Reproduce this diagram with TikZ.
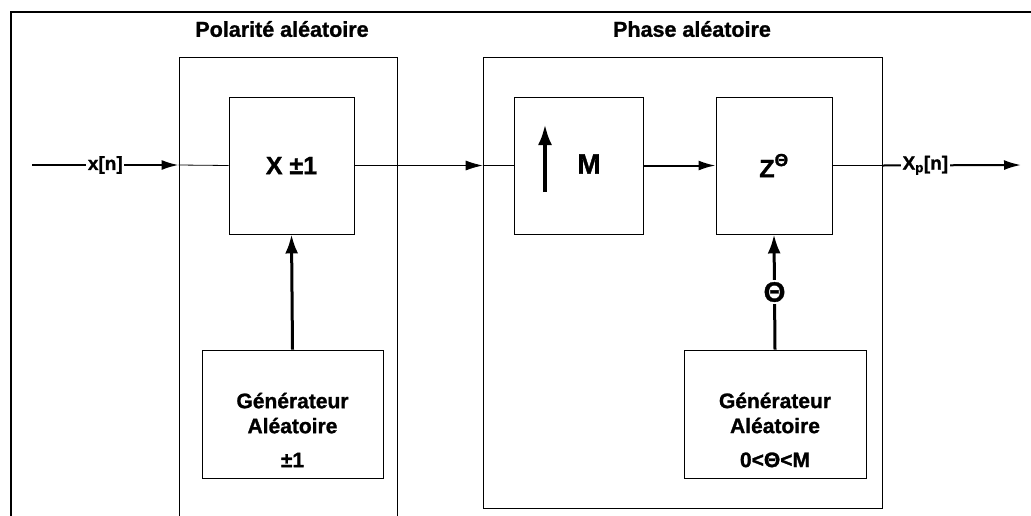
\documentclass[tikz,border=0pt]{standalone}
\usepackage{fontspec}
\setmainfont{Liberation Sans}[BoldFeatures={FakeBold=1.2}]
\usetikzlibrary{calc, arrows.meta}

\begin{document}
\begin{tikzpicture}[
    x=1pt, y=-1pt,
    grp/.style={draw=black, line width=0.8pt, inner sep=0pt},
    blockbox/.style={draw=black, line width=0.9pt, inner sep=0pt},
    wire/.style={line width=0.8pt},
    sig/.style={line width=2pt},
    feed/.style={line width=3pt, -{Latex[length=19pt, width=13pt]}},
    lbl/.style={fill=white, inner sep=1.5pt, font=\bfseries\fontsize{19}{22}\selectfont},
    ttl/.style={font=\bfseries\fontsize{21.5}{24}\selectfont},
    gentxt/.style={align=center, font=\bfseries\fontsize{21}{25}\selectfont},
    >={Latex[length=17pt, width=10pt]}
]

\useasboundingbox (0,0) rectangle (1031,515);
\clip (0,0) rectangle (1031,515);

% Outer frame
\draw[line width=1.8pt] (11,540) |- (1045,12);

% Groups
\node[grp, minimum width=218pt, minimum height=483pt] (grpPol) at (288,298.5) {};
\node[grp, minimum width=399pt, minimum height=451pt] (grpPha) at (682.5,282.5) {};
\node[ttl] (ttlPol) at (282,29) {Polarité aléatoire};
\node[ttl] (ttlPha) at (692,29) {Phase aléatoire};

% Blocks
\node[blockbox, minimum width=125pt, minimum height=137pt,
      font=\bfseries\fontsize{25}{28}\selectfont] (mulbox) at (291.5,165.5) {X ±1};
\node[blockbox, minimum width=181pt, minimum height=128pt] (gen1) at (292.5,414) {};
\node[gentxt] (gen1txt) at ($(gen1)+(0,16)$) {Générateur\\Aléatoire\\[9pt]±1};

\node[blockbox, minimum width=129pt, minimum height=137pt] (upbox) at (578.5,165.5) {};
\node[font=\bfseries\fontsize{28}{30}\selectfont] (uptxt) at (589,164) {M};
\draw[line width=4pt, -{Latex[length=21pt, width=14pt]}] (545,192) -- (545,124);

\node[blockbox, minimum width=116pt, minimum height=137pt,
      font=\bfseries\fontsize{25}{28}\selectfont] (zbox) at (774,165.5) {Z\textsuperscript{\raisebox{2pt}{Θ}}};
\node[blockbox, minimum width=182pt, minimum height=128pt] (gen2) at (775,414) {};
\node[gentxt] (gen2txt) at ($(gen2)+(0,16)$) {Générateur\\Aléatoire\\[9pt]0<Θ<M};

% Signal path
\coordinate (xin) at (32,165);
\coordinate (xout) at (1021,165);
\draw[sig, ->] (xin) -- node[lbl] {x[n]} (xin -| grpPol.west);
\draw[wire] (xin -| grpPol.west) -- (mulbox.west);
\draw[wire, ->] (mulbox.east) -- (mulbox.east -| grpPha.west);
\draw[wire] (mulbox.east -| grpPha.west) -- (upbox.west);
\draw[sig, ->] (upbox.east) -- (zbox.west);
\draw[wire] (zbox.east) -- (zbox.east -| grpPha.east);
\draw[sig, ->] (zbox.east -| grpPha.east) -- node[lbl, pos=0.31] {X\textsubscript{p}[n]} (xout);

% Control inputs
\draw[feed] (gen1.north) -- (mulbox.south);
\draw[feed] (gen2.north) -- node[fill=white, inner sep=2pt,
      font=\bfseries\fontsize{28}{30}\selectfont] (thlbl) {Θ} (zbox.south);

\end{tikzpicture}
\end{document}
